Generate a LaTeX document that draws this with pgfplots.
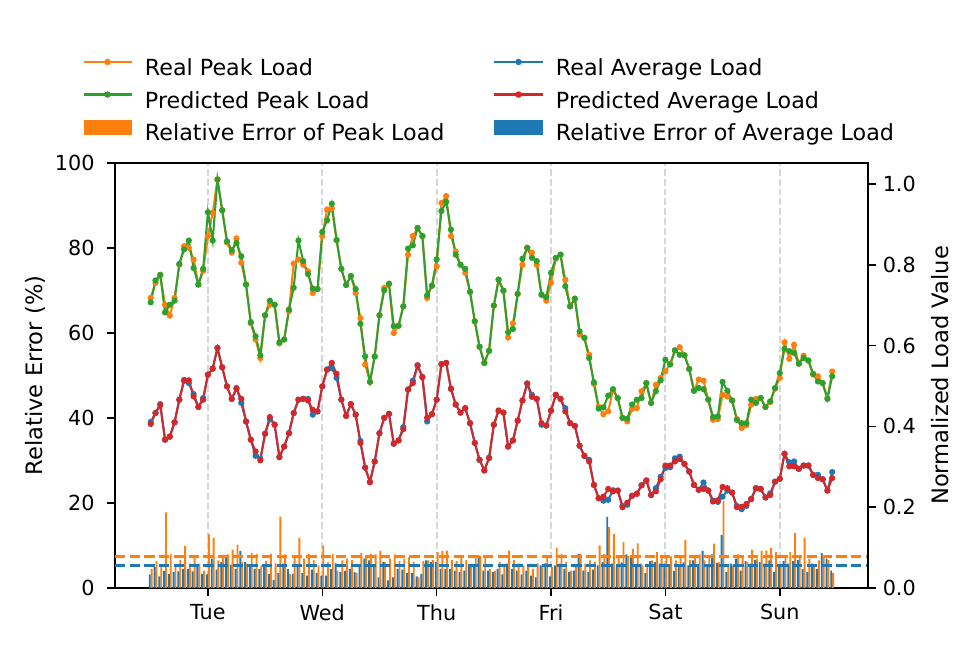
\documentclass[border=0pt]{standalone}
\usepackage{fontspec}
\setmainfont{DejaVu Sans}
\usepackage{pgfplots}
\usepackage{pgfplotstable}
\pgfplotsset{compat=1.18}
\definecolor{tabblue}{HTML}{1F77B4}
\definecolor{taborange}{HTML}{FF7F0E}
\definecolor{tabgreen}{HTML}{2CA02C}
\definecolor{tabred}{HTML}{D62728}
\pgfplotsset{legend image code/.code={\path[draw=none,fill=none] (0pt,-3pt) rectangle (26pt,9pt);\draw[mark repeat=2,mark phase=2,#1] plot coordinates {(0pt,4.3pt) (13pt,4.3pt) (26pt,4.3pt)};}}
\pgfplotstableread{
x rp pp ra pa ep ea
0 0.718 0.707 0.411 0.406 4.5 3.2
1 0.755 0.761 0.433 0.433 6.3 4.9
2 0.775 0.775 0.455 0.453 5.3 2.7
3 0.701 0.682 0.367 0.367 17.8 4.0
4 0.674 0.701 0.374 0.375 8.0 3.3
5 0.718 0.711 0.410 0.410 4.9 3.7
6 0.800 0.802 0.466 0.466 6.6 3.9
7 0.846 0.838 0.515 0.513 9.9 4.5
8 0.842 0.860 0.507 0.514 5.7 4.5
9 0.813 0.792 0.480 0.474 7.3 3.9
10 0.751 0.751 0.448 0.448 5.7 5.1
11 0.785 0.790 0.470 0.466 4.1 3.3
12 0.871 0.930 0.528 0.528 12.6 3.2
13 0.929 0.860 0.543 0.543 11.8 6.9
14 1.011 1.011 0.594 0.594 6.5 4.3
15 0.935 0.935 0.546 0.546 7.4 6.1
16 0.855 0.858 0.499 0.499 7.9 7.6
17 0.830 0.836 0.468 0.468 9.0 5.5
18 0.865 0.854 0.495 0.493 10.2 4.5
19 0.805 0.821 0.458 0.468 6.1 8.7
20 0.751 0.751 0.412 0.412 5.7 6.1
21 0.655 0.658 0.367 0.367 8.2 4.9
22 0.615 0.623 0.327 0.338 8.0 4.5
23 0.569 0.576 0.320 0.316 5.3 4.4
24 0.675 0.675 0.382 0.382 6.3 5.5
25 0.701 0.711 0.418 0.423 8.0 3.3
26 0.701 0.701 0.404 0.404 5.8 1.9
27 0.605 0.608 0.324 0.324 16.8 3.5
28 0.615 0.615 0.350 0.350 7.9 5.7
29 0.685 0.689 0.383 0.383 3.3 4.5
30 0.803 0.743 0.433 0.433 7.1 3.3
31 0.813 0.860 0.466 0.466 11.8 5.3
32 0.800 0.809 0.468 0.468 6.9 3.5
33 0.784 0.777 0.468 0.464 8.0 2.9
34 0.730 0.741 0.429 0.441 6.6 4.3
35 0.740 0.740 0.437 0.437 5.3 3.5
36 0.871 0.881 0.499 0.499 10.0 2.9
37 0.937 0.910 0.541 0.540 6.0 2.9
38 0.940 0.951 0.544 0.557 8.0 4.5
39 0.861 0.861 0.520 0.530 4.1 5.8
40 0.790 0.790 0.466 0.466 6.5 3.7
41 0.750 0.750 0.426 0.426 6.9 4.0
42 0.772 0.772 0.455 0.455 6.6 4.5
43 0.730 0.740 0.429 0.429 3.5 3.7
44 0.668 0.654 0.364 0.359 8.2 5.1
45 0.553 0.573 0.298 0.298 7.6 6.9
46 0.510 0.510 0.262 0.262 8.0 6.5
47 0.573 0.573 0.313 0.313 7.9 4.9
48 0.675 0.675 0.383 0.383 8.7 2.5
49 0.743 0.737 0.421 0.421 6.1 6.1
50 0.753 0.753 0.431 0.431 6.9 1.8
51 0.631 0.648 0.357 0.357 7.9 2.5
52 0.649 0.649 0.365 0.365 6.3 4.5
53 0.697 0.697 0.398 0.393 6.9 4.3
54 0.825 0.840 0.491 0.491 7.2 3.5
55 0.871 0.848 0.513 0.507 6.2 3.5
56 0.891 0.891 0.551 0.551 2.5 2.7
57 0.871 0.871 0.522 0.522 6.3 3.3
58 0.718 0.724 0.412 0.421 6.5 6.5
59 0.748 0.748 0.430 0.430 6.6 6.1
60 0.796 0.813 0.466 0.466 8.4 6.1
61 0.953 0.933 0.554 0.554 8.7 4.5
62 0.970 0.956 0.557 0.557 8.8 4.5
63 0.871 0.887 0.493 0.493 6.6 4.5
64 0.833 0.825 0.454 0.454 6.3 4.1
65 0.800 0.800 0.434 0.434 7.1 3.7
66 0.780 0.790 0.445 0.445 6.6 4.1
67 0.733 0.733 0.408 0.408 5.7 4.9
68 0.660 0.660 0.359 0.359 7.4 5.3
69 0.597 0.597 0.317 0.317 7.6 7.6
70 0.557 0.557 0.291 0.291 7.1 4.1
71 0.587 0.587 0.322 0.322 4.5 4.1
72 0.699 0.699 0.404 0.404 4.1 3.7
73 0.763 0.763 0.439 0.439 6.1 4.5
74 0.736 0.736 0.434 0.434 5.3 3.2
75 0.620 0.633 0.350 0.350 8.8 5.7
76 0.655 0.641 0.365 0.365 6.6 4.5
77 0.728 0.728 0.414 0.414 5.8 4.1
78 0.800 0.815 0.464 0.464 5.3 3.2
79 0.842 0.842 0.506 0.506 5.3 4.1
80 0.830 0.817 0.478 0.473 4.5 2.9
81 0.800 0.809 0.468 0.468 5.8 2.5
82 0.726 0.726 0.404 0.408 5.5 5.3
83 0.711 0.720 0.402 0.402 7.1 5.8
84 0.755 0.780 0.439 0.439 4.9 2.7
85 0.815 0.817 0.478 0.478 9.5 5.3
86 0.825 0.825 0.468 0.468 8.0 5.7
87 0.763 0.747 0.445 0.437 6.1 4.5
88 0.697 0.697 0.408 0.408 4.1 3.7
89 0.716 0.716 0.401 0.401 5.3 4.1
90 0.627 0.635 0.352 0.352 8.0 8.0
91 0.619 0.619 0.327 0.327 5.7 4.1
92 0.577 0.569 0.317 0.313 6.5 3.7
93 0.505 0.509 0.255 0.255 6.1 4.3
94 0.449 0.444 0.222 0.222 10.0 5.3
95 0.430 0.447 0.216 0.226 8.0 6.1
96 0.437 0.476 0.218 0.245 14.3 16.7
97 0.490 0.492 0.242 0.239 12.7 5.7
98 0.470 0.470 0.241 0.241 7.2 4.9
99 0.421 0.421 0.203 0.200 10.8 6.0
100 0.412 0.419 0.206 0.211 7.6 7.9
101 0.443 0.454 0.228 0.228 9.2 7.1
102 0.445 0.466 0.233 0.233 10.5 4.9
103 0.487 0.470 0.254 0.254 5.3 5.7
104 0.507 0.507 0.266 0.266 5.7 3.5
105 0.458 0.458 0.230 0.230 6.5 6.3
106 0.503 0.487 0.247 0.239 8.4 6.1
107 0.520 0.514 0.275 0.269 7.2 5.7
108 0.536 0.565 0.297 0.303 7.6 5.7
109 0.555 0.553 0.299 0.303 7.4 5.5
110 0.588 0.588 0.321 0.313 6.5 4.0
111 0.596 0.577 0.325 0.319 7.2 5.3
112 0.576 0.576 0.307 0.307 11.3 6.0
113 0.542 0.542 0.288 0.288 6.6 5.3
114 0.488 0.488 0.255 0.255 7.4 6.5
115 0.516 0.495 0.243 0.243 7.9 5.1
116 0.513 0.492 0.261 0.245 6.5 8.7
117 0.466 0.466 0.241 0.241 7.2 5.3
118 0.416 0.423 0.216 0.214 10.4 7.9
119 0.418 0.425 0.213 0.217 6.1 5.9
120 0.478 0.510 0.226 0.250 20.5 12.4
121 0.474 0.488 0.241 0.247 5.7 3.7
122 0.464 0.464 0.236 0.236 5.3 5.7
123 0.418 0.416 0.203 0.200 7.9 6.9
124 0.396 0.408 0.195 0.201 7.3 4.1
125 0.403 0.408 0.203 0.208 6.1 6.3
126 0.454 0.466 0.220 0.220 9.0 5.7
127 0.468 0.458 0.247 0.247 6.9 6.6
128 0.470 0.470 0.245 0.245 8.7 6.1
129 0.448 0.448 0.224 0.224 8.8 5.7
130 0.460 0.462 0.234 0.230 9.4 6.5
131 0.493 0.495 0.263 0.263 8.4 3.7
132 0.520 0.532 0.270 0.270 5.7 5.1
133 0.608 0.592 0.332 0.332 7.3 6.3
134 0.567 0.586 0.311 0.301 8.4 5.7
135 0.602 0.582 0.313 0.301 12.9 6.3
136 0.555 0.555 0.295 0.295 7.2 6.6
137 0.575 0.569 0.303 0.303 11.8 4.5
138 0.563 0.563 0.303 0.303 6.9 3.7
139 0.528 0.530 0.280 0.280 4.9 5.7
140 0.524 0.511 0.280 0.272 6.5 4.5
141 0.507 0.507 0.269 0.269 7.6 8.2
142 0.470 0.468 0.241 0.241 6.6 6.9
143 0.536 0.524 0.287 0.272 3.5 4.1
}\data

\pgfplotsset{
  common/.style={
    at={(0,0)}, anchor=south west, scale only axis,
    width=406.6pt, height=229.5pt,
    xmin=-7.5, xmax=150.5,
    tick align=outside, major tick length=4.5pt,
    every tick/.style={black, line width=0.8pt},
    axis line style={line width=0.8pt},
    tick label style={font=\fontsize{11.2}{13}\selectfont},
    label style={font=\fontsize{12.2}{14}\selectfont},
    /pgf/number format/assume math mode=true,
  },
}

\begin{document}
\begin{tikzpicture}
\path[use as bounding box] (-62.1pt,-34pt) rectangle (465.5pt,317.5pt);
\begin{axis}[common,
  ymin=0, ymax=100, ytick={0,20,40,60,80,100},
  xtick={12,36,60,84,108,132}, xticklabels={Tue,Wed,Thu,Fri,Sat,Sun},
  xtick pos=bottom, ytick pos=left,
  yticklabel style={xshift=-3pt},
  xticklabel style={yshift=-0.8pt},
  xmajorgrids, major grid style={black!16, line width=1pt, dash pattern=on 3.7pt off 1.6pt},
  ylabel={Relative Error (\%)},
  ylabel style={at={(axis description cs:-0.106,0.5)}, anchor=center},
]
\addplot[ybar, bar width=0.4, bar shift=0.2, fill=taborange, draw=none] table[x=x,y=ep]{\data};
\addplot[ybar, bar width=0.4, bar shift=-0.2, fill=tabblue, draw=none] table[x=x,y=ea]{\data};
\addplot[taborange, line width=1.5pt, dash pattern=on 5.55pt off 2.4pt] coordinates {(-7.5,7.4) (150.5,7.4)};
\addplot[tabblue, line width=1.5pt, dash pattern=on 5.55pt off 2.4pt] coordinates {(-7.5,5.3) (150.5,5.3)};
\end{axis}
\begin{axis}[common,
  ymin=0, ymax=1.052, ytick={0,0.2,0.4,0.6,0.8,1.0},
  axis y line*=right, axis x line=none,
  yticklabel style={/pgf/number format/.cd, fixed, fixed zerofill, precision=1},
  ylabel={Normalized Load Value},
  ylabel style={at={(axis description cs:1.0956,0.5)}, anchor=center},
  legend columns=2,
  legend style={at={(axis description cs:-0.0438,1.259)}, anchor=north west,
    draw=none, fill=none, inner sep=0pt, row sep=2.6pt,
    font=\fontsize{12}{14}\selectfont,
    nodes={inner sep=0pt, text height=9pt, text depth=3pt},
    /tikz/every odd column/.append style={column sep=6.6pt},
    /tikz/every even column/.append style={column sep=26.4pt},
    cells={anchor=west}},
]
\addlegendimage{taborange, line width=1.2pt, mark=*, mark size=1.1pt}
\addlegendentry{Real Peak Load}
\addlegendimage{tabblue, line width=1.2pt, mark=*, mark size=1.1pt}
\addlegendentry{Real Average Load}
\addlegendimage{tabgreen, line width=1.2pt, mark=*, mark size=1.1pt}
\addlegendentry{Predicted Peak Load}
\addlegendimage{tabred, line width=1.2pt, mark=*, mark size=1.1pt}
\addlegendentry{Predicted Average Load}
\addlegendimage{legend image code/.code={\path[draw=none,fill=none] (0pt,-3pt) rectangle (26pt,9pt);\fill[taborange,draw=none] (0pt,0.3pt) rectangle (26pt,8.4pt);}}
\addlegendentry{Relative Error of Peak Load}
\addlegendimage{legend image code/.code={\path[draw=none,fill=none] (0pt,-3pt) rectangle (26pt,9pt);\fill[tabblue,draw=none] (0pt,0.3pt) rectangle (26pt,8.4pt);}}
\addlegendentry{Relative Error of Average Load}
\addplot[taborange, line width=1.1pt, mark=*, mark size=1.1pt, forget plot] table[x=x,y=rp]{\data};
\addplot[tabgreen, line width=1.1pt, mark=*, mark size=1.1pt, forget plot] table[x=x,y=pp]{\data};
\addplot[tabblue, line width=1.1pt, mark=*, mark size=1.1pt, forget plot] table[x=x,y=ra]{\data};
\addplot[tabred, line width=1.1pt, mark=*, mark size=1.1pt, forget plot] table[x=x,y=pa]{\data};
\end{axis}
\end{tikzpicture}
\end{document}
